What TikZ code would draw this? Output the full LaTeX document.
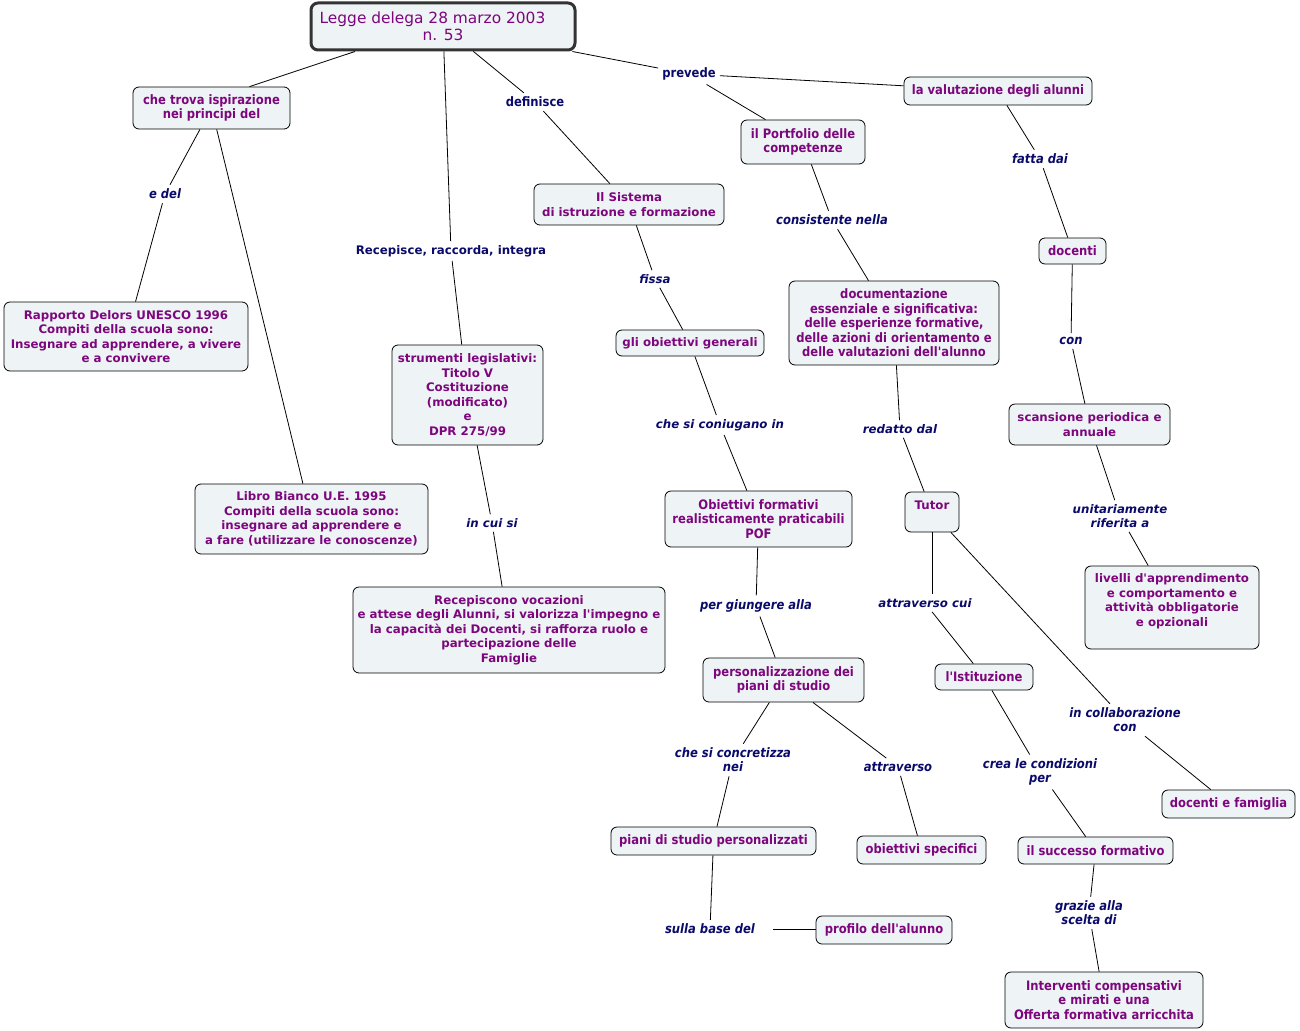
\documentclass[tikz,border=0pt]{standalone}
\usepackage{fontspec}
\setmainfont{DejaVu Sans}
\newfontfamily\vfont{DejaVu Sans}
\newfontfamily\tfont[FakeStretch=0.89]{DejaVu Sans}
\definecolor{nodefill}{HTML}{EEF3F5}
\definecolor{nodetext}{HTML}{7D067D}
\definecolor{linktext}{HTML}{0A0A6A}
\tikzset{
  box/.style={draw=black, line width=0.8pt, rounded corners=6pt, fill=nodefill,
    text=nodetext, align=center, inner sep=2pt},
  nv/.style={box, font=\vfont\bfseries\fontsize{11.8}{14.5}\selectfont},
  nt/.style={box, font=\tfont\bfseries\fontsize{13}{14.5}\selectfont},
  lv/.style={text=linktext, align=center, inner sep=4pt, font=\vfont\bfseries\itshape\fontsize{11.8}{14}\selectfont},
  lt/.style={text=linktext, align=center, inner sep=4pt, font=\tfont\bfseries\itshape\fontsize{13}{14}\selectfont},
  lvu/.style={lv, font=\vfont\bfseries\fontsize{11.8}{14}\selectfont},
  ltu/.style={lt, font=\tfont\bfseries\fontsize{13}{14}\selectfont},
  ln/.style={draw=black, line width=0.8pt},
}
\begin{document}
\begin{tikzpicture}[x=1pt, y=-1pt]
\useasboundingbox (0,0) rectangle (1300,1030);
% concepts
\node[draw=black!80, line width=3pt, rounded corners=7pt, fill=nodefill, text=nodetext, align=center,
  font=\vfont\fontsize{15.4}{17}\selectfont, minimum width=264, minimum height=47] (top) at (443,26.5)
  {Legge delega 28 marzo 2003\rule{21pt}{0pt}\\n. 53};
\node[nt, minimum width=157, minimum height=42] (trova) at (211.5,108) {che trova ispirazione\\nei principi del};
\node[nv, minimum width=244, minimum height=69] (rap) at (126,336.5) {Rapporto Delors UNESCO 1996\\Compiti della scuola sono:\\Insegnare ad apprendere, a vivere\\e a convivere};
\node[nv, minimum width=233, minimum height=70] (libro) at (311.5,519) {Libro Bianco U.E. 1995\\Compiti della scuola sono:\\insegnare ad apprendere e\\a fare (utilizzare le conoscenze)};
\node[nv, minimum width=151, minimum height=100] (strum) at (467.5,395) {strumenti legislativi:\\Titolo V\\Costituzione\\(modificato)\\e\\DPR 275/99};
\node[nv, minimum width=312, minimum height=86] (recep) at (509,630) {Recepiscono vocazioni\\e attese degli Alunni, si valorizza l'impegno e\\la capacità dei Docenti, si rafforza ruolo e\\partecipazione delle\\Famiglie};
\node[nv, minimum width=190, minimum height=41] (sist) at (629,204.5) {Il Sistema\\di istruzione e formazione};
\node[nv, minimum width=148, minimum height=26] (obgen) at (690,343) {gli obiettivi generali};
\node[nt, minimum width=187, minimum height=56] (obform) at (758.5,519) {Obiettivi formativi\\realisticamente praticabili\\POF};
\node[nt, minimum width=161, minimum height=44] (pers) at (783.5,680) {personalizzazione dei\\piani di studio};
\node[nt, minimum width=205, minimum height=28] (piani) at (713.5,841) {piani di studio personalizzati};
\node[nt, minimum width=136, minimum height=28] (prof) at (884,930) {profilo dell'alunno};
\node[nt, minimum width=129, minimum height=28] (obspec) at (921.5,850) {obiettivi specifici};
\node[nt, minimum width=124, minimum height=44] (port) at (803,142) {il Portfolio delle\\competenze};
\node[nt, minimum width=210, minimum height=84] (doc) at (894,323) {documentazione\\essenziale e significativa:\\delle esperienze formative,\\delle azioni di orientamento e\\delle valutazioni dell'alunno};
\node[nv, minimum width=54, minimum height=40] (tutor) at (932,512) {Tutor\\\mbox{}};
\node[nt, minimum width=98, minimum height=26] (ist) at (984,677) {l'Istituzione};
\node[nt, minimum width=155, minimum height=27] (succ) at (1095.5,850.5) {il successo formativo};
\node[nt, minimum width=198, minimum height=56] (interv) at (1104,1000) {Interventi compensativi\\e mirati e una\\Offerta formativa arricchita};
\node[nt, minimum width=133, minimum height=28] (docfam) at (1228.5,804) {docenti e famiglia};
\node[nt, minimum width=188, minimum height=28] (valut) at (998,91) {la valutazione degli alunni};
\node[nt, minimum width=67, minimum height=26] (docenti) at (1072.5,251) {docenti};
\node[nv, minimum width=161, minimum height=41] (scans) at (1089.5,424.5) {scansione periodica e\\annuale};
\node[nv, minimum width=174, minimum height=83] (livelli) at (1172,607.5) {livelli d'apprendimento\\e comportamento e\\attività obbligatorie\\e opzionali\\\mbox{}};
% linking phrases
\node[lt] (edel) at (165,194) {e del};
\node[lvu] (recepl) at (451,251) {Recepisce, raccorda, integra};
\node[ltu] (defin) at (535,102) {definisce};
\node[ltu] (prev) at (689,74) {prevede};
\node[lv] (fissa) at (655,279) {fissa};
\node[lv] (coniug) at (720,425) {che si coniugano in};
\node[lv] (incui) at (492,523) {in cui si};
\node[lt] (giung) at (756,606) {per giungere alla};
\node[lt] (concr) at (733,760) {che si concretizza\\nei};
\node[lt] (attr) at (898,767) {attraverso};
\node[lt] (base) at (710,929) {sulla base del};
\node[lt] (consist) at (832,220) {consistente nella};
\node[lv] (redatto) at (900,429) {redatto dal};
\node[lv] (attrcui) at (925,603) {attraverso cui};
\node[lt] (crea) at (1040,772) {crea le condizioni\\per};
\node[lt] (collab) at (1125,720) {in collaborazione\\con};
\node[lt] (grazie) at (1089,913) {grazie alla\\scelta di};
\node[lt] (fatta) at (1040,159) {fatta dai};
\node[lt] (con) at (1071,341) {con};
\node[lv] (unit) at (1120,516) {unitariamente\\riferita a};
% connections
\draw[ln] ([xshift=-88pt]top.south) -- ([xshift=38pt]trova.north);
\draw[ln] (trova) -- (edel);
\draw[ln] (edel) -- (rap);
\draw[ln] (trova) -- (libro);
\draw[ln] (top) -- (recepl);
\draw[ln] (recepl) -- (strum);
\draw[ln] (top) -- (defin);
\draw[ln] (defin) -- (sist);
\draw[ln] (top) -- (prev);
\draw[ln] (prev) -- (valut);
\draw[ln] (prev) -- (port);
\draw[ln] (sist) -- (fissa);
\draw[ln] (fissa) -- (obgen);
\draw[ln] (obgen) -- (coniug);
\draw[ln] (coniug) -- (obform);
\draw[ln] (strum) -- (incui);
\draw[ln] (incui) -- (recep);
\draw[ln] (obform) -- (giung);
\draw[ln] (giung) -- (pers);
\draw[ln] (pers) -- (concr);
\draw[ln] (concr) -- (piani);
\draw[ln] (pers) -- (attr);
\draw[ln] (attr) -- (obspec);
\draw[ln] (piani) -- (base);
\draw[ln, shorten <=14pt] (base.east) -- (base.east -| prof.west);
\draw[ln] (port) -- (consist);
\draw[ln] (consist) -- (doc);
\draw[ln] (doc) -- (redatto);
\draw[ln] (redatto) -- (tutor);
\draw[ln] (tutor.south) -- (tutor.south |- attrcui.north);
\draw[ln] (attrcui) -- (ist);
\draw[ln] (tutor) -- (collab);
\draw[ln] (collab) -- (docfam);
\draw[ln] (ist) -- (crea);
\draw[ln] (crea) -- (succ);
\draw[ln] (succ) -- (grazie);
\draw[ln] (grazie) -- (interv);
\draw[ln] (valut) -- (fatta);
\draw[ln] (fatta) -- (docenti);
\draw[ln] (docenti) -- (con);
\draw[ln] (con) -- (scans);
\draw[ln] (scans) -- (unit);
\draw[ln] (unit) -- (livelli);
\end{tikzpicture}
\end{document}
